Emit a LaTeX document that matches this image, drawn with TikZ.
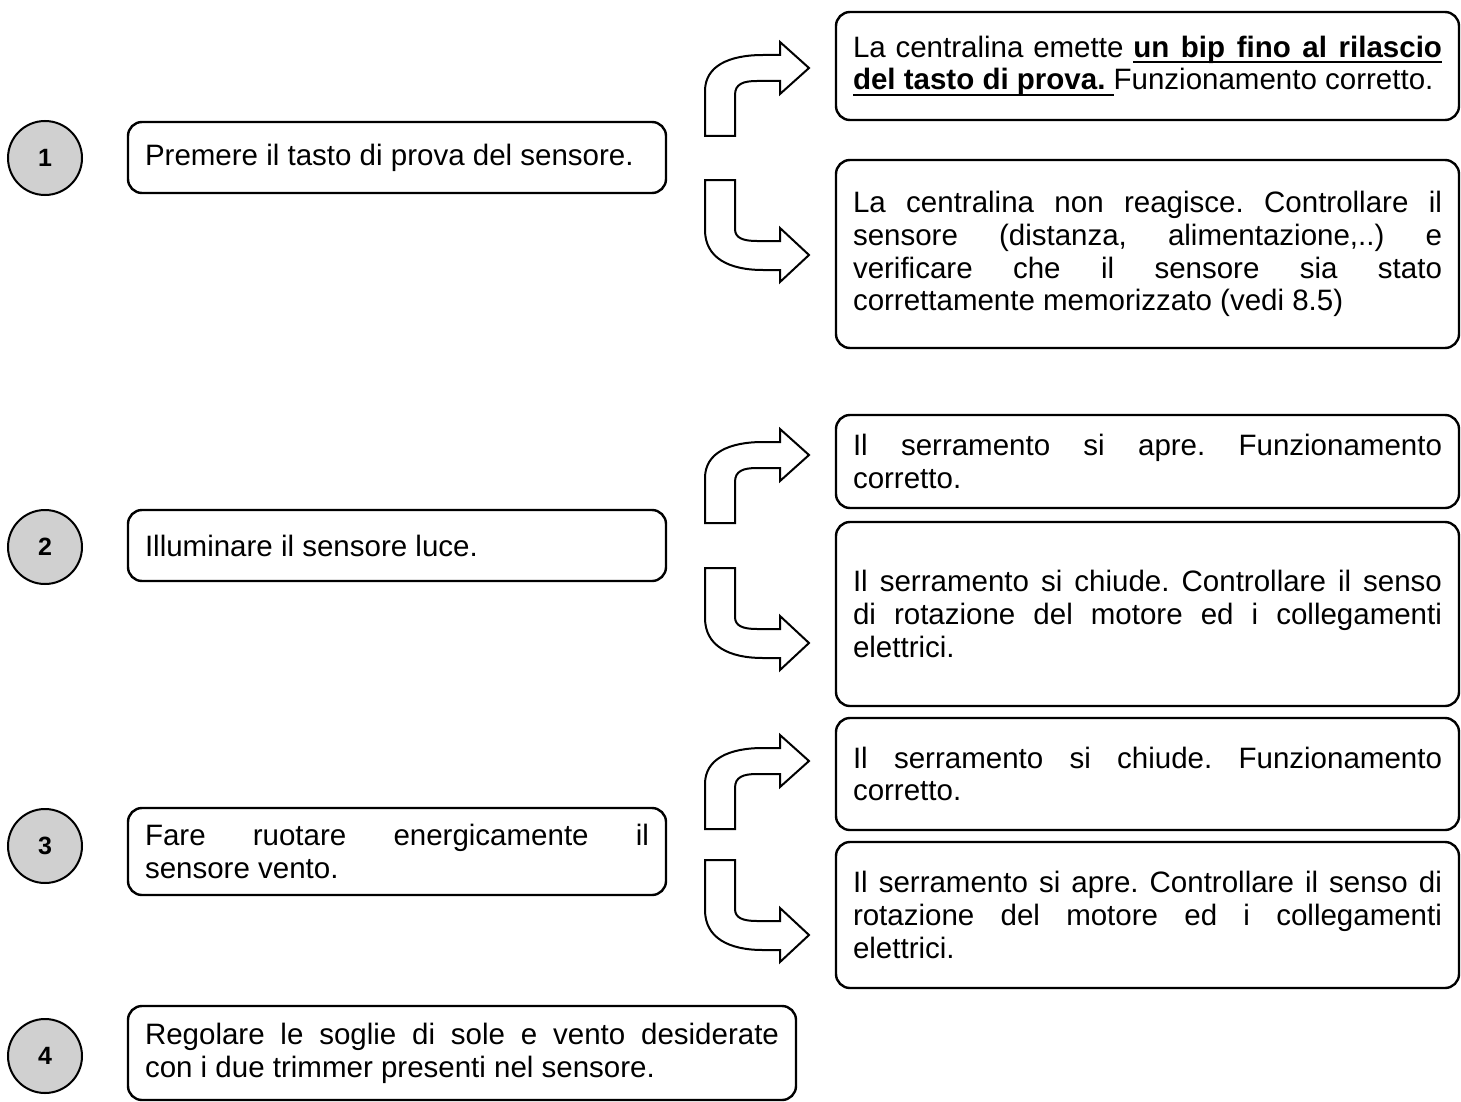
\documentclass[tikz,border=0pt]{standalone}
\usepackage{fontspec}
\setmainfont{Liberation Sans}
\definecolor{dotgray}{RGB}{208,208,208}
\tolerance=10000
\hbadness=10000
\hyphenpenalty=10000
\frenchspacing
% underlined word and underlined (stretchable) space
\newcommand{\ulw}[1]{\setbox0\hbox{#1}\rlap{\rule[-3.2pt]{\wd0}{1pt}}\box0}
\newcommand{\ulsp}{\leaders\hrule height -2.2pt depth 3.2pt\hskip 0.278em plus 0.3em minus 0.09em\relax}

\begin{document}
\begin{tikzpicture}[x=0.5pt, y=-0.5pt,
    numdot/.style={circle, draw, line width=1pt, fill=dotgray, minimum size=37pt,
        inner sep=0pt, font=\fontsize{12.5}{14}\selectfont\bfseries},
    stepbox/.style={draw, line width=1.2pt, rounded corners=7pt, inner xsep=8.5pt,
        inner ysep=0pt, align=justify, font=\fontsize{14.75}{16.4}\selectfont},
    leftbox/.style={stepbox, text width=252pt, minimum width=269pt},
    rightbox/.style={stepbox, text width=294.5pt, minimum width=311.5pt},
    bentup/.pic={
        \draw[line width=1pt, fill=white] (0,0) -- (30,0) -- (30,-41)
            .. controls (30,-52) and (38,-55) .. (52,-55) -- (75,-55) -- (75,-42)
            -- (104,-68) -- (75,-94) -- (75,-81) -- (58,-81)
            .. controls (24,-81) and (0,-70) .. (0,-45) -- cycle;
    },
    bentdown/.pic={
        \draw[line width=1pt, fill=white] (0,0) -- (30,0) -- (30,49)
            .. controls (30,58) and (38,61) .. (52,61) -- (75,61) -- (75,48)
            -- (104,75) -- (75,102) -- (75,90) -- (58,90)
            .. controls (24,90) and (0,78) .. (0,50) -- cycle;
    }]
    \useasboundingbox (0,0) rectangle (1461,1102);

    % numbered steps
    \node[numdot] (n1) at (45,158) {1};
    \node[numdot] (n2) at (45,547) {2};
    \node[numdot] (n3) at (45,846) {3};
    \node[numdot] (n4) at (45,1056) {4};

    % actions
    \node[leftbox, minimum height=35.5pt] (a1) at (397,157.5)
        {Premere il tasto di prova del sensore.};
    \node[leftbox, minimum height=35.5pt] (a2) at (397,545.5)
        {Illuminare il sensore luce.};
    \node[leftbox, minimum height=43.5pt] (a3) at (397,851.5)
        {Fare ruotare energicamente il\linebreak sensore vento.};
    \node[stepbox, text width=317pt, minimum width=334pt, minimum height=47pt] (a4) at (462,1053)
        {Regolare le soglie di sole e vento desiderate\linebreak con i due trimmer presenti nel sensore.};

    % results
    \node[rightbox, minimum height=54pt] (r1a) at (1147.5,66)
        {La centralina emette \bfseries\ulw{un}\ulsp\ulw{bip}\ulsp\ulw{fino}\ulsp\ulw{al}\ulsp\ulw{rilascio}\linebreak
         \ulw{del}\ulsp\ulw{tasto}\ulsp\ulw{di}\ulsp\ulw{prova.}\ulsp\mdseries Funzionamento corretto.};
    \node[rightbox, minimum height=94pt] (r1b) at (1147.5,254)
        {La centralina non reagisce. Controllare il\linebreak sensore (distanza, alimentazione,..) e\linebreak verificare che il sensore sia stato\linebreak correttamente memorizzato (vedi 8.5)};
    \node[rightbox, minimum height=46.5pt] (r2a) at (1147.5,461.5)
        {Il serramento si apre. Funzionamento\linebreak corretto.};
    \node[rightbox, minimum height=92pt] (r2b) at (1147.5,614)
        {Il serramento si chiude. Controllare il senso\linebreak di rotazione del motore ed i collegamenti\linebreak elettrici.};
    \node[rightbox, minimum height=56pt] (r3a) at (1147.5,774)
        {Il serramento si chiude. Funzionamento\linebreak corretto.};
    \node[rightbox, minimum height=73pt] (r3b) at (1147.5,915)
        {Il serramento si apre. Controllare il senso di\linebreak rotazione del motore ed i collegamenti\linebreak elettrici.};

    % bent arrows
    \pic at (705,136) {bentup};
    \pic at (705,180) {bentdown};
    \pic at (705,523) {bentup};
    \pic at (705,568) {bentdown};
    \pic at (705,829) {bentup};
    \pic at (705,860) {bentdown};
\end{tikzpicture}
\end{document}
